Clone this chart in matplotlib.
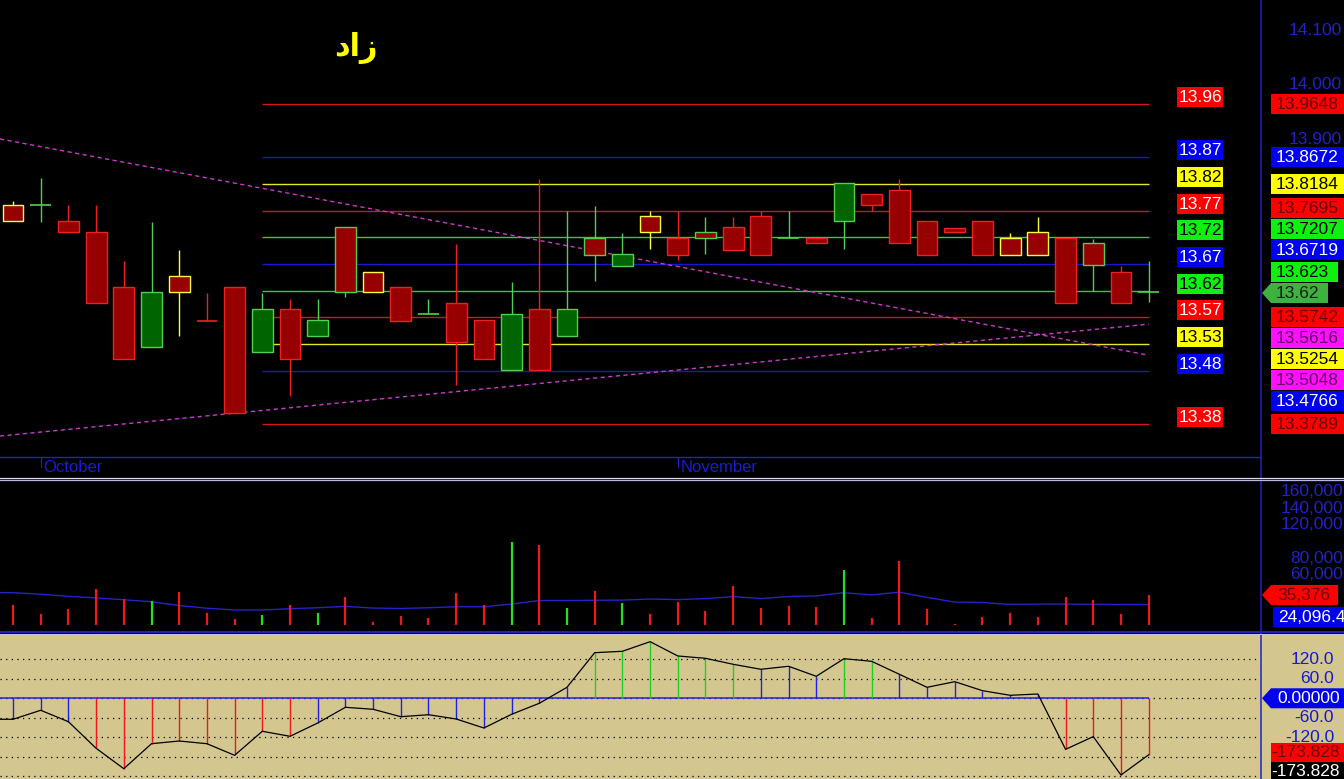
import numpy as np
import matplotlib
matplotlib.use("Agg")
import matplotlib.pyplot as plt
from matplotlib.patches import Rectangle, Polygon

plt.rcParams['font.family'] = ['Liberation Sans', 'DejaVu Sans']

# ---------------- data ----------------
title = "زاد"

opens = [13.779, 13.780, 13.751, 13.730, 13.630, 13.519, 13.649, 13.568, 13.630, 13.510,
         13.589, 13.540, 13.739, 13.658, 13.630, 13.580, 13.600, 13.569, 13.478, 13.589,
         13.539, 13.719, 13.669, 13.759, 13.719, 13.730, 13.739, 13.759, 13.719, 13.719,
         13.750, 13.800, 13.808, 13.750, 13.738, 13.750, 13.719, 13.730, 13.719, 13.710,
         13.658, 13.620]
highs = [13.787, 13.829, 13.779, 13.779, 13.677, 13.749, 13.697, 13.618, 13.630, 13.619,
         13.607, 13.608, 13.739, 13.658, 13.630, 13.608, 13.708, 13.569, 13.639, 13.827,
         13.768, 13.778, 13.728, 13.768, 13.768, 13.757, 13.758, 13.768, 13.768, 13.719,
         13.820, 13.800, 13.827, 13.750, 13.738, 13.750, 13.728, 13.757, 13.719, 13.717,
         13.668, 13.677]
lows = [13.750, 13.749, 13.730, 13.600, 13.498, 13.519, 13.540, 13.568, 13.398, 13.510,
        13.430, 13.540, 13.612, 13.620, 13.568, 13.580, 13.450, 13.498, 13.478, 13.478,
        13.539, 13.641, 13.669, 13.699, 13.679, 13.690, 13.698, 13.689, 13.719, 13.710,
        13.700, 13.769, 13.710, 13.689, 13.730, 13.689, 13.689, 13.689, 13.600, 13.622,
        13.600, 13.602]
closes = [13.750, 13.780, 13.730, 13.600, 13.498, 13.620, 13.620, 13.568, 13.398, 13.589,
          13.498, 13.569, 13.620, 13.620, 13.568, 13.580, 13.528, 13.498, 13.580, 13.478,
          13.589, 13.689, 13.690, 13.730, 13.689, 13.719, 13.698, 13.689, 13.719, 13.710,
          13.820, 13.780, 13.710, 13.689, 13.730, 13.689, 13.689, 13.689, 13.600, 13.670,
          13.600, 13.620]
# outline colour of each candle: r = red, g = green, y = yellow
edge_codes = list("ygrrrgyrrgrggyrgrrgrgggyrgrrgrgrrrrryyrgrg")

volumes = [23000, 12300, 18200, 43200, 31300, 28600, 39300, 13500, 6300, 11100,
           23000, 14300, 33700, 2800, 9900, 8000, 38500, 23000, 100000, 96000,
           20200, 40500, 26200, 12300, 27400, 15900, 46400, 19800, 21800, 20600,
           65500, 7500, 77000, 19000, 1200, 9500, 13900, 9500, 33700, 30100,
           12300, 35376]
vol_ma_prev = 38600
vol_ma = [38300, 36500, 33900, 32100, 29800, 27400, 22900, 19600, 17500, 17500,
          19000, 20200, 21800, 19800, 19300, 20200, 21400, 21400, 24600, 28900,
          28900, 29200, 29400, 30700, 30000, 31200, 33600, 31300, 33700, 34500,
          38300, 35700, 38900, 32700, 27000, 26500, 24200, 24600, 24600, 24300,
          24100, 24096.4]

osc_prev = -64.6
osc = [-64.6, -36.9, -72.0, -153.8, -216.6, -139.7, -131.4, -139.7, -175.4, -101.5,
       -116.9, -76.0, -27.7, -33.8, -56.6, -50.5, -63.7, -91.4, -49.2, -15.4,
       33.8, 140.3, 144.6, 174.2, 130.2, 123.0, 104.6, 89.2, 98.5, 67.7,
       121.8, 113.8, 73.8, 33.8, 51.1, 23.4, 9.2, 13.2, -157.0, -118.0,
       -236.0, -173.828]

fib_levels = [13.9648, 13.8672, 13.8184, 13.7695, 13.7207, 13.6719, 13.6230,
              13.5742, 13.5254, 13.4766, 13.3789]
fib_short = ["13.96", "13.87", "13.82", "13.77", "13.72", "13.67", "13.62",
             "13.57", "13.53", "13.48", "13.38"]
fib_full = ["13.9648", "13.8672", "13.8184", "13.7695", "13.7207", "13.6719", "13.623",
            "13.5742", "13.5254", "13.4766", "13.3789"]
fib_codes = ["r", "b", "y", "r", "g", "b", "g", "r", "y", "b", "r"]
fib_start, fib_end = 9, 41

trend_down = (13.8963, 13.5048)   # value at first and last candle
trend_up = (13.3590, 13.5616)

month_labels = ["October", "November"]
month_start_idx = [1, 24]

# axis labels that are visible (others are hidden behind the value boxes)
price_ticks = [14.1, 14.0, 13.9]
vol_ticks = [160000, 140000, 120000, 80000, 60000]
osc_ticks = [120, 60, -60, -120]

# ---------------- styles ----------------
W, H = 1344, 779
PLOT_R = 1260
BLUE_AX = "#2222C8"
TAN = "#D3C78F"
LINE_COL = {"r": "#D01818", "b": "#1818D0", "y": "#E6E62A", "g": "#3CC83C"}
EDGE_COL = {"r": "#F02020", "g": "#50D050", "y": "#FFFF40"}
BOX_BG = {"r": "#FF0000", "b": "#0000F0", "y": "#FFFF00", "g": "#10F010", "m": "#FF10FF"}
FILL_DN, FILL_UP = "#960000", "#006400"

n = len(closes)
idx = np.arange(n)
x_left, x_right = -0.47, 45.02

fig = plt.figure(figsize=(W / 100, H / 100), dpi=100, facecolor="black")


def add_ax(x0, y0, x1, y1, fc):
    ax = fig.add_axes([x0 / W, 1 - y1 / H, (x1 - x0) / W, (y1 - y0) / H])
    ax.set_facecolor(fc)
    ax.set_xticks([])
    ax.set_yticks([])
    for s in ax.spines.values():
        s.set_visible(False)
    ax.set_xlim(x_left, x_right)
    return ax


ax_p = add_ax(0, 0, PLOT_R, 456, "black")
ax_v = add_ax(0, 481, PLOT_R, 631, "black")
ax_o = add_ax(0, 634, PLOT_R, 779, TAN)
ax_p.set_ylim(13.3201, 14.1553)
ax_v.set_ylim(-7830, 172900)
ax_o.set_ylim(-248.3, 197.8)

# ---- price panel ----
for lv, c in zip(fib_levels, fib_codes):
    ax_p.hlines(lv, fib_start, fib_end, color=LINE_COL[c], lw=1.0, zorder=1)

xs = np.array([x_left, n - 1])
for (a, b) in (trend_down, trend_up):
    ys = a + (b - a) * xs / (n - 1)
    ax_p.plot(xs, ys, color="#C83CC8", lw=1.0, ls=(0, (3, 2.5)), zorder=2)

bw = 0.75
for i in range(n):
    o, h, l, c = opens[i], highs[i], lows[i], closes[i]
    ec = EDGE_COL[edge_codes[i]]
    ax_p.vlines(i, l, h, color=ec, lw=1.0, zorder=3)
    if abs(c - o) < 1e-9:
        ax_p.hlines(c, i - bw / 2, i + bw / 2, color=ec, lw=1.2, zorder=4)
    else:
        fc = FILL_UP if c > o else FILL_DN
        ax_p.add_patch(Rectangle((i - bw / 2, min(o, c)), bw, abs(c - o),
                                 facecolor=fc, edgecolor=ec, lw=1.0, zorder=4))

# ---- volume panel ----
vcols = ["#20E020" if closes[i] > opens[i] else "#F01818" for i in range(n)]
ax_v.vlines(idx, 0, volumes, colors=vcols, lw=1.6, zorder=3)
ax_v.plot(np.r_[-1, idx], np.r_[vol_ma_prev, vol_ma], color="#2424C8", lw=1.0, zorder=2)

# ---- oscillator panel ----
for g in [120, 60, 0, -60, -120, -180, -240]:
    ax_o.axhline(g, color="black", lw=0.9, ls=(0, (1, 3.5)), zorder=1)
ax_o.hlines(0, x_left, n - 1, color="#2020E0", lw=1.1, zorder=2)
scol = ["#20D020" if v > 100 else ("#F01818" if v < -100 else "#2020E0") for v in osc]
ax_o.vlines(idx, 0, osc, colors=scol, lw=1.0, zorder=3)
ax_o.plot(np.r_[-1, idx], np.r_[osc_prev, osc], color="black", lw=0.9, zorder=4)

# ---- overlay in pixel coordinates ----
ov = fig.add_axes([0, 0, 1, 1])
ov.set_xlim(0, W)
ov.set_ylim(H, 0)
ov.set_axis_off()
ov.patch.set_alpha(0)
fig.canvas.draw()


def to_px(ax, x, y):
    d = ax.transData.transform((x, y))
    return d[0], H - d[1]


def ypx(ax, v):
    return to_px(ax, 0, v)[1]


FS = 12.5
# tan area right of oscillator
ov.add_patch(Rectangle((PLOT_R, 634), W - PLOT_R, H - 634, facecolor=TAN, edgecolor="none", zorder=1))
# separators
ov.plot([PLOT_R + 0.5, PLOT_R + 0.5], [0, H], color=BLUE_AX, lw=1.1, zorder=6)
ov.plot([0, PLOT_R], [456.5, 456.5], color=BLUE_AX, lw=1.0, zorder=6)
ov.plot([0, W], [477.5, 477.5], color="#D8D8F4", lw=0.9, zorder=6)
ov.plot([0, W], [480, 480], color="#B8B8E8", lw=0.9, zorder=6)
ov.plot([0, W], [632, 632], color="#2020C0", lw=1.4, zorder=6)
ov.plot([0, W], [633.6, 633.6], color="#C0C0E8", lw=0.8, zorder=6)

# month labels
for lab, mi in zip(month_labels, month_start_idx):
    x, _ = to_px(ax_p, mi, 13.5)
    ov.plot([x, x], [457, 467], color=BLUE_AX, lw=0.8, zorder=6)
    ov.text(x + 3, 467, lab, color="#1A1AD8", fontsize=12, ha="left", va="center", zorder=6)

# title (Arabic, drawn right-to-left; letters do not join)
ov.text(356, 48, title[::-1], color="#FFFF00", fontsize=22, fontweight="bold",
        family="DejaVu Sans", ha="center", va="center", zorder=6)

# right axis tick labels
for p in price_ticks:
    ov.text(1342, ypx(ax_p, p), f"{p:.3f}", color=BLUE_AX, fontsize=FS, ha="right",
            va="center", zorder=3)
for v in vol_ticks:
    ov.text(1343, ypx(ax_v, v), f"{v:,}", color=BLUE_AX, fontsize=FS, ha="right",
            va="center", zorder=3)
for v in osc_ticks:
    ov.text(1334, ypx(ax_o, v), f"{v:.1f}", color="#1818D0", fontsize=FS, ha="right",
            va="center", zorder=3)


def box(x0, x1, yc, bg, fg, txt, tip=None, tx=None, ha="left", h=20):
    if tip is None:
        ov.add_patch(Rectangle((x0, yc - h / 2), x1 - x0, h, facecolor=bg, edgecolor="none", zorder=7))
    else:
        ov.add_patch(Polygon([(tip, yc), (x0, yc - h / 2), (x1, yc - h / 2), (x1, yc + h / 2),
                              (x0, yc + h / 2)], closed=True, facecolor=bg, edgecolor="none", zorder=7))
    ov.text(tx if tx is not None else x0 + 5, yc + 0.5, txt, color=fg, fontsize=FS, ha=ha,
            va="center", zorder=8)


FG_ON = {"r": "white", "b": "white", "y": "black", "g": "black"}
# fib labels beside the lines
for lv, s, c in zip(fib_levels, fib_short, fib_codes):
    yc = ypx(ax_p, lv) - 7
    box(1177, 1223, yc, BOX_BG[c], FG_ON[c], s, tx=1200, ha="center")

# right axis value boxes (label layout positions in px)
FG_RIGHT = {"r": "#6A0000", "b": "white", "y": "black", "g": "black", "m": "#600060"}
right_y = [104, 157, 184, 208, 229, 250, 271.5, 317, 359, 401, 424]
for s, c, yc in zip(fib_full, fib_codes, right_y):
    x1 = 1338 if s == "13.623" else W
    box(1271, x1, yc, BOX_BG[c], FG_RIGHT[c], s, tx=1276)
# trend line end values
box(1271, W, 338, BOX_BG["m"], FG_RIGHT["m"], f"{trend_up[1]:.4f}", tx=1276)
box(1271, W, 380, BOX_BG["m"], FG_RIGHT["m"], f"{trend_down[1]:.4f}", tx=1276)
# last close tag
box(1271, 1328, 293, "#40B040", "#102010", f"{closes[-1]:.2f}", tip=1262, tx=1276)

# volume tags
box(1271, 1338, 595, "#FF0000", "#6A0000", f"{volumes[-1]:,}", tip=1262, tx=1277)
box(1273, W, 617, "#0000F0", "white", f"{vol_ma[-1]:,.1f}", tx=1278)

# oscillator tags
box(1271, W, 698.3, "#0000F0", "white", "0.00000", tip=1262, tx=1277)
box(1271, W, 752, "#FF0000", "#6A0000", f"{osc[-1]:.3f}", tx=1271, h=19)
box(1271, W, 770.5, "#000000", "white", f"{osc[-1]:.3f}", tx=1271, h=18)

fig.savefig("out.png", dpi=100, facecolor="black")
